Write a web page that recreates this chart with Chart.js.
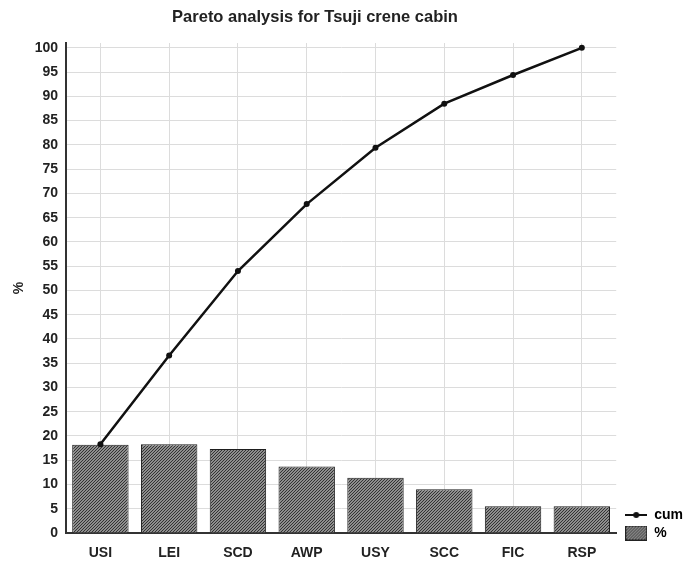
<!DOCTYPE html>
<html>
<head>
<meta charset="utf-8">
<script src="https://cdn.jsdelivr.net/npm/chart.js@4/dist/chart.umd.min.js"></script>
<style>
  html, body { margin: 0; padding: 0; background: #fff; }
  #wrap { width: 696px; height: 561px; }
</style>
</head>
<body>
<div id="wrap"><canvas id="chart" width="696" height="561"></canvas></div>
<script>
// --- DATA ---
const categories = ['USI', 'LEI', 'SCD', 'AWP', 'USY', 'SCC', 'FIC', 'RSP'];
const percentValues = [18.2, 18.3, 17.3, 13.7, 11.4, 9.0, 5.5, 5.5];
const cumValues = [18.3, 36.6, 54.0, 67.8, 79.4, 88.5, 94.4, 100];
const yTicks = [0, 5, 10, 15, 20, 25, 30, 35, 40, 45, 50, 55, 60, 65, 70, 75, 80, 85, 90, 95, 100];
const chartTitle = 'Pareto analysis for Tsuji crene cabin';

// hatched fill used by the bars (and the legend swatch)
function makeHatch(g) {
    const c = document.createElement('canvas');
    c.width = 3; c.height = 3;
    const h = c.getContext('2d');
    h.fillStyle = '#8e8e8e';
    h.fillRect(0, 0, 3, 3);
    h.fillStyle = '#333';
    for (let i = 0; i < 3; i++) h.fillRect(i, 2 - i, 1, 1);
    return g.createPattern(c, 'repeat');
}
const ctx = document.getElementById('chart').getContext('2d');
const hatch = makeHatch(ctx);

// legend symbols
function lineSymbol() {
    const c = document.createElement('canvas');
    c.width = 22; c.height = 8;
    const g = c.getContext('2d');
    g.strokeStyle = '#111'; g.lineWidth = 2;
    g.beginPath(); g.moveTo(0, 4); g.lineTo(22, 4); g.stroke();
    g.fillStyle = '#111';
    g.beginPath(); g.arc(11, 4, 3, 0, Math.PI * 2); g.fill();
    return c;
}
function boxSymbol() {
    const c = document.createElement('canvas');
    c.width = 22; c.height = 15;
    const g = c.getContext('2d');
    g.fillStyle = makeHatch(g);
    g.fillRect(0, 0, 22, 15);
    g.strokeStyle = '#222'; g.lineWidth = 1;
    g.strokeRect(0.5, 0.5, 21, 14);
    return c;
}

const titlePlugin = {
    id: 'ownTitle',
    afterLayout(chart) {
        // nudge the legend so the "%" entry sits on the x axis line
        chart.legend.top += 11;
        chart.legend.bottom += 11;
        chart.legend.left += 5;
        chart.legend.right += 5;
    },
    afterDraw(chart) {
        const g = chart.ctx;
        g.save();
        g.font = 'bold 16.5px "Liberation Sans", Arial, sans-serif';
        g.fillStyle = '#222';
        g.textAlign = 'center';
        g.textBaseline = 'middle';
        g.fillText(chartTitle, 315, 17);
        g.restore();
    }
};

const tickFont = { family: '"Liberation Sans", Arial, sans-serif', size: 14, weight: 'bold' };

new Chart(ctx, {
    type: 'bar',
    data: {
        labels: categories,
        datasets: [
            {
                type: 'line', label: 'cum', data: cumValues, order: 0,
                borderColor: '#111', borderWidth: 2.5, tension: 0,
                pointRadius: 3, pointBackgroundColor: '#111', pointBorderWidth: 0
            },
            {
                type: 'bar', label: '%', data: percentValues, order: 1,
                backgroundColor: hatch, borderColor: '#1e1e1e', borderWidth: 1,
                barPercentage: 0.82, categoryPercentage: 1
            }
        ]
    },
    options: {
        responsive: false,
        animation: false,
        layout: { padding: { top: 43, right: 8, left: 0, bottom: 0 } },
        plugins: {
            title: { display: false },
            tooltip: { enabled: false },
            legend: {
                position: 'right', align: 'end', fullSize: false,
                labels: {
                    usePointStyle: true, pointStyleWidth: 22, padding: 4,
                    color: '#222', font: tickFont,
                    generateLabels: (chart) => chart.data.datasets.map((ds, i) => ({
                        text: ds.label, datasetIndex: i,
                        pointStyle: i === 0 ? lineSymbol() : boxSymbol(),
                        fillStyle: 'transparent', strokeStyle: 'transparent', lineWidth: 0, hidden: false
                    }))
                }
            }
        },
        scales: {
            x: {
                offset: true,
                grid: { offset: false, color: '#dcdcdc', drawTicks: false },
                border: { color: '#333', width: 2 },
                ticks: { color: '#222', font: tickFont, padding: 12 },
                afterFit: (s) => { s.height = 28; }
            },
            y: {
                min: 0, max: 101,
                afterBuildTicks: (s) => { s.ticks = yTicks.map(v => ({ value: v })); },
                grid: { color: '#dcdcdc', drawTicks: false },
                border: { color: '#333', width: 2 },
                ticks: { color: '#222', font: tickFont, padding: 8 },
                title: { display: true, text: '%', color: '#222', font: tickFont, padding: { top: 11, bottom: 0 } },
                afterFit: (s) => { s.width = 66; }
            }
        }
    },
    plugins: [titlePlugin]
});
</script>
</body>
</html>
